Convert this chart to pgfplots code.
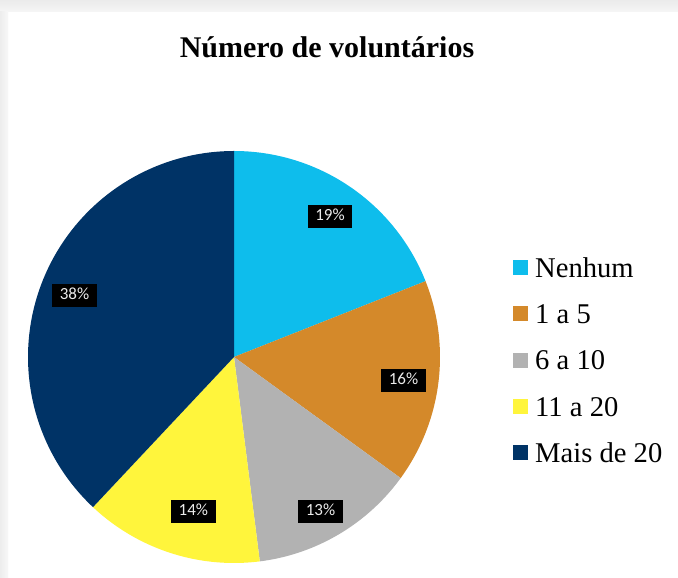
\documentclass[border=0pt]{standalone}
\usepackage{pgfplots}
\pgfplotsset{compat=1.18}
\usepackage{fontspec}
\setmainfont{Liberation Serif}
\newfontfamily\labelfont{Carlito}
\definecolor{cNen}{RGB}{14,189,236}
\definecolor{cA}{RGB}{212,137,42}
\definecolor{cB}{RGB}{178,178,178}
\definecolor{cC}{RGB}{255,245,60}
\definecolor{cD}{RGB}{0,51,102}
% #1 cumulative start (%), #2 value (%), #3 colour, #4 label x, #5 label y
\newcommand{\slice}[5]{%
  \addplot[draw=none, fill=#3, domain={90-3.6*(#1+#2)}:{90-3.6*(#1)}, samples=120]
    ({cos(x)},{sin(x)}) -- (axis cs:0,0) -- cycle;
  \node[fill=black, text=white!92!black, font=\labelfont\fontsize{17}{19}\selectfont,
        text height=11.8pt, text depth=3pt,
        inner xsep=7.5pt, inner ysep=4.1pt] at (axis cs:#4,#5) {#2\%};
}
\begin{document}
\begin{tikzpicture}[x=1pt,y=1pt]
\fill[white] (0,0) rectangle (678,578);
\shade[top color=gray!16, bottom color=gray!7] (0,566) rectangle (678,578);
\shade[left color=gray!14, right color=gray!6] (0,0) rectangle (8,566);
\begin{axis}[at={(234pt,221pt)}, anchor=center, scale only axis,
  width=412pt, height=412pt, xmin=-1, xmax=1, ymin=-1, ymax=1,
  hide axis, clip=false,
  legend cell align=left,
  legend image code/.code={\path[#1, draw=none] (-1pt,-5pt) rectangle (14pt,10pt); \path (19pt,0pt);},
  legend style={draw=none, fill=none, at={(1.17,0.75)}, anchor=north west,
    font=\fontsize{28.6}{31}\selectfont, row sep=18.3pt,
    nodes={text height=19pt, text depth=5pt}},
]
\slice{0}{19}{cNen}{0.466}{0.682}
\slice{19}{16}{cA}{0.823}{-0.114}
\slice{35}{13}{cB}{0.420}{-0.748}
\slice{48}{14}{cC}{-0.197}{-0.748}
\slice{62}{38}{cD}{-0.774}{0.299}
\legend{Nenhum, 1 a 5, 6 a 10, 11 a 20, Mais de 20}
\end{axis}
\node[anchor=base, font=\bfseries\fontsize{30}{34}\selectfont] at (327,520) {Número de voluntários};
\end{tikzpicture}
\end{document}
